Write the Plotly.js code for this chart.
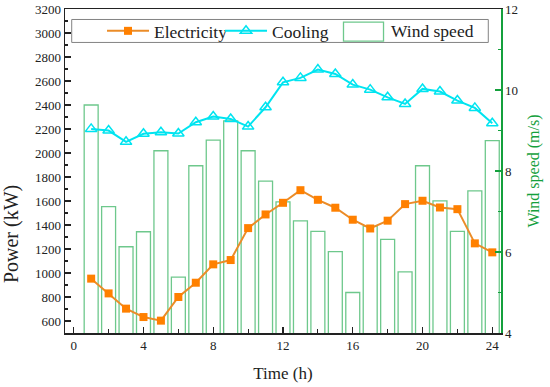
<!DOCTYPE html>
<html><head><meta charset="utf-8">
<script src="https://cdn.plot.ly/plotly-3.0.1.min.js"></script>
<style>html,body{margin:0;padding:0;background:#fff}#chart{width:550px;height:387px}</style>
</head><body><div id="chart"></div>
<script>
const hours = [1,2,3,4,5,6,7,8,9,10,11,12,13,14,15,16,17,18,19,20,21,22,23,24];
const electricity = [953,830,703,633,603,800,919,1072,1108,1374,1488,1585,1690,1610,1544,1444,1371,1436,1574,1602,1546,1532,1247,1172];
const cooling = [2201,2187,2093,2160,2173,2162,2256,2304,2284,2220,2381,2589,2626,2695,2659,2570,2528,2464,2409,2534,2512,2437,2376,2248];
const windSpeed = [9.63,7.12,6.13,6.50,8.50,5.38,8.13,8.76,9.24,8.50,7.75,7.24,6.77,6.51,6.01,5.00,6.64,6.31,5.51,8.13,7.26,6.51,7.51,8.75];
const xTicks = [0,4,8,12,16,20,24];

const FONT = '"Liberation Serif", "Times New Roman", serif';
const GREEN = 'rgb(20,160,60)';
const BARLINE = 'rgb(110,200,140)';
const ORANGE = 'rgb(255,128,0)';
const CYAN = 'rgb(0,228,240)';

const traces = [
  {type:'bar', x:hours, y:windSpeed, width:0.8, yaxis:'y', name:'Wind speed', showlegend:false,
   marker:{color:'white', line:{color:BARLINE, width:1.3}}},
  {type:'scatter', mode:'lines+markers', x:hours, y:electricity, yaxis:'y2', name:'Electricity',
   line:{color:'rgb(235,140,40)', width:2}, marker:{symbol:'square', size:8, color:ORANGE}},
  {type:'scatter', mode:'lines+markers', x:hours, y:cooling, yaxis:'y2', name:'Cooling',
   line:{color:CYAN, width:2}, marker:{symbol:'triangle-up-open', size:10, color:CYAN, line:{width:1.5}}}
];

const W = 550, H = 387, L = 65, R = 49.3, T = 8.5, B = 54;
const pw = W - L - R, ph = H - T - B;
const px = v => (v - L) / pw;
const py = v => 1 - (v - T) / ph;

const layout = {
  width:W, height:H, margin:{l:L, r:R, t:T, b:B, pad:0},
  paper_bgcolor:'white', plot_bgcolor:'white',
  font:{family:FONT, size:13, color:'#222'},
  showlegend:true, bargap:0,
  xaxis:{range:[-0.5,24.5], tickvals:xTicks, ticks:'inside', ticklen:6, tickwidth:1.2, tickcolor:'#222',
    minor:{tickvals:[2,6,10,14,18,22], ticks:'inside', ticklen:4, tickcolor:'#222'},
    showline:true, linecolor:'#222', linewidth:1.5, mirror:true, showgrid:false, zeroline:false,
    tickfont:{size:13, family:FONT, color:'#222'},
    title:{text:'Time (h)', font:{size:17, family:FONT, color:'#222'}, standoff:15}},
  yaxis:{range:[4,12], side:'right', tick0:4, dtick:2, ticks:'inside', ticklen:6, tickwidth:1.2, tickcolor:GREEN,
    minor:{dtick:1, ticks:'inside', ticklen:3, tickcolor:GREEN},
    showline:true, linecolor:GREEN, linewidth:1.5, showgrid:false, zeroline:false,
    tickfont:{size:13, family:FONT, color:'#222'},
    title:{text:'Wind speed (m/s)', font:{size:16, family:FONT, color:GREEN}, standoff:10}},
  yaxis2:{range:[500,3200], overlaying:'y', side:'left', tick0:0, dtick:200, ticks:'inside', ticklen:6, tickwidth:1.2, tickcolor:'#222',
    minor:{dtick:100, ticks:'inside', ticklen:3, tickcolor:'#222'},
    showline:true, linecolor:'#222', linewidth:1.5, showgrid:false, zeroline:false,
    tickfont:{size:13, family:FONT, color:'#222'}},
  legend:{orientation:'h', x:px(102), xanchor:'left', y:py(30.5), yanchor:'middle',
    bgcolor:'rgba(0,0,0,0)', borderwidth:0, itemwidth:42, entrywidth:61, entrywidthmode:'pixels',
    font:{size:17.5, family:FONT, color:'#222'}},
  shapes:[
    {type:'rect', xref:'paper', yref:'paper', x0:px(71.7), x1:px(488), y0:py(42), y1:py(19),
     line:{color:'rgb(130,130,130)', width:1}},
    {type:'rect', xref:'paper', yref:'paper', x0:px(343.3), x1:px(383.3), y0:py(40.7), y1:py(21.7),
     line:{color:BARLINE, width:1.3}, fillcolor:'white'}
  ],
  annotations:[
    {text:'Wind speed', xref:'paper', yref:'paper', x:px(389), y:py(30.5), xanchor:'left', yanchor:'middle',
     showarrow:false, font:{size:17.5, family:FONT, color:'#222'}},
    {text:'Power (kW)', xref:'paper', yref:'paper', x:px(11), y:py(234), xanchor:'center', yanchor:'middle',
     textangle:-90, showarrow:false, font:{size:20, family:FONT, color:'#222'}}
  ]
};

Plotly.newPlot('chart', traces, layout, {displayModeBar:false, staticPlot:true});
</script></body></html>
